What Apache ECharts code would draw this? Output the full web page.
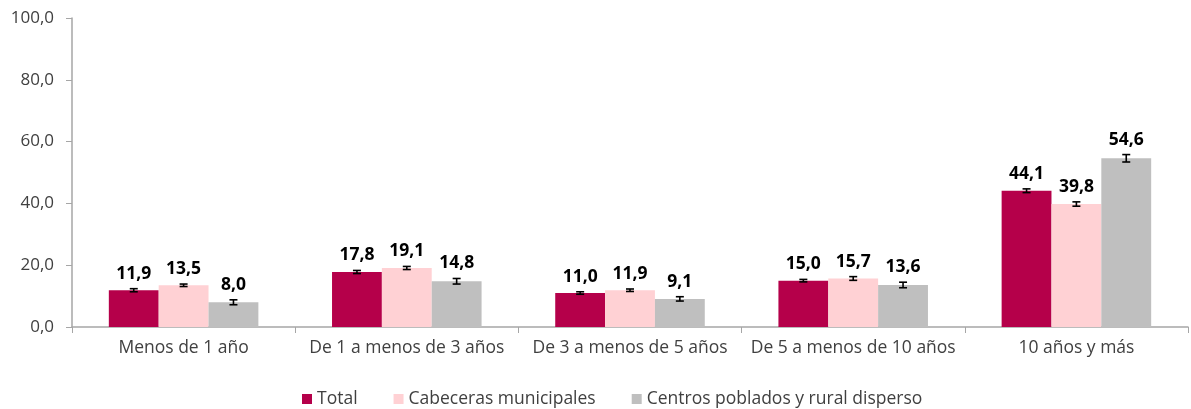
<!DOCTYPE html>
<html><head><meta charset="utf-8">
<script src="https://cdn.jsdelivr.net/npm/echarts@6/dist/echarts.min.js"></script>
<style>html,body{margin:0;padding:0;background:#fff}#c{width:1191px;height:409px}</style>
</head><body><div id="c"></div>
<script>
const categories = ["Menos de 1 año","De 1 a menos de 3 años","De 3 a menos de 5 años","De 5 a menos de 10 años","10 años y más"];
const seriesNames = ["Total","Cabeceras municipales","Centros poblados y rural disperso"];
const totalValues = [11.9,17.8,11.0,15.0,44.1];
const cabecerasValues = [13.5,19.1,11.9,15.7,39.8];
const centrosValues = [8.0,14.8,9.1,13.6,54.6];
const totalErr = [0.5,0.5,0.4,0.4,0.6];
const cabecerasErr = [0.4,0.5,0.4,0.6,0.7];
const centrosErr = [0.8,0.9,0.7,0.9,1.2];
const yTicks = [0,20,40,60,80,100];
const colors = ["#B5004A","#FFD1D4","#BFBFBF"];

const values = [totalValues,cabecerasValues,centrosValues];
const errs = [totalErr,cabecerasErr,centrosErr];
const fmt = v => v.toFixed(1).replace('.', ',');
const FONT = "'Open Sans', 'Noto Sans', sans-serif";

const chart = echarts.init(document.getElementById('c'), null, {renderer:'canvas'});
const series = [];
values.forEach((vals,i)=>{
  series.push({
    name: seriesNames[i], type:'bar', data: vals, barGap:'0%', barCategoryGap:'33%',
    itemStyle:{color:colors[i]}, animation:false
  });
});
values.forEach((vals,i)=>{
  series.push({
    type:'custom', animation:false, silent:true, z:10,
    data: vals.map((v,j)=>[j, v, errs[i][j]]),
    renderItem:(params, api)=>{
      const j = api.value(0), v = api.value(1), e = api.value(2);
      const size = api.size([1,0]);
      const catW = size[0];
      const barW = catW*(1-0.33)/3;
      const center = api.coord([j, v]);
      const x = center[0] - 1.5*barW + barW*(i+0.5);
      const yHi = api.coord([j, v+e])[1];
      const yLo = api.coord([j, v-e])[1];
      const hw = 4;
      const st = {stroke:'#000', lineWidth:1.6};
      return {type:'group', children:[
        {type:'line', shape:{x1:x,y1:yHi,x2:x,y2:yLo}, style:st},
        {type:'line', shape:{x1:x-hw,y1:yHi,x2:x+hw,y2:yHi}, style:st},
        {type:'line', shape:{x1:x-hw,y1:yLo,x2:x+hw,y2:yLo}, style:st},
        {type:'text', x:x, y:yHi-6, style:{text:fmt(v), textAlign:'center', textVerticalAlign:'bottom',
          font:"bold 17.5px "+FONT, fill:'#000'}}
      ]};
    }
  });
});

chart.setOption({
  animation:false,
  grid:{left:72, right:3, top:18, bottom:82, containLabel:false},
  legend:{
    data: seriesNames, top:385, left:297, itemWidth:10, itemHeight:10, itemGap:36, icon:'rect',
    textStyle:{fontFamily:FONT, fontSize:17.5, color:'#404040'}
  },
  xAxis:{
    type:'category', data:categories,
    axisLine:{lineStyle:{color:'#a6a6a6', width:1.5}},
    axisTick:{show:true, length:6, lineStyle:{color:'#a6a6a6'}},
    axisLabel:{fontFamily:FONT, fontSize:17.5, color:'#404040', margin:12, interval:0}
  },
  yAxis:{
    type:'value', min:yTicks[0], max:yTicks[yTicks.length-1], interval:20,
    splitLine:{show:false},
    axisLine:{show:true, lineStyle:{color:'#a6a6a6', width:1.5}},
    axisTick:{show:true, length:6, inside:false, lineStyle:{color:'#a6a6a6'}},
    axisLabel:{fontFamily:FONT, fontSize:17, color:'#404040', margin:18, formatter:v=>fmt(v)}
  },
  series: series
});
</script></body></html>
